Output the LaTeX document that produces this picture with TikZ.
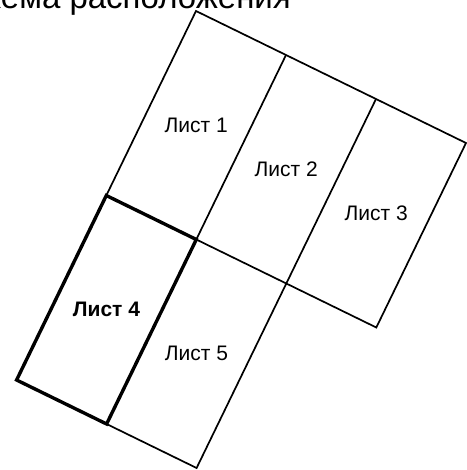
\documentclass[tikz,border=0pt]{standalone}
\usepackage{fontspec}
\setmainfont{Liberation Sans}

\begin{document}
\begin{tikzpicture}[x=1pt,y=1pt]
\useasboundingbox (0,0) rectangle (466,-470);
\node[anchor=base east,font=\fontsize{33}{39}\selectfont,inner sep=0pt] (title) at (291,-9) {Схема расположения};
\begin{scope}[shift={(196,-11)},x={(90pt,-44pt)},y={(-89.7pt,-184.5pt)},line width=1.7pt,line join=miter]
\draw (0,0) -- (3,0) -- (3,1) -- (2,1) -- (2,2) -- (0,2) -- cycle;
\draw (0,1) -- (2,1);
\draw (1,0) -- (1,2);
\draw (2,0) -- (2,1);
\draw[line width=3.4pt] (0,1) -- (1,1) -- (1,2) -- (0,2) -- cycle;
\node[font=\fontsize{21}{25}\selectfont] (sheet1) at (0.5,0.5) {Лист 1};
\node[font=\fontsize{21}{25}\selectfont] (sheet2) at (1.5,0.5) {Лист 2};
\node[font=\fontsize{21}{25}\selectfont] (sheet3) at (2.5,0.5) {Лист 3};
\node[font=\fontsize{21}{25}\selectfont\bfseries] (sheet4) at (0.5,1.5) {Лист 4};
\node[font=\fontsize{21}{25}\selectfont] (sheet5) at (1.5,1.5) {Лист 5};
\end{scope}
\end{tikzpicture}
\end{document}
